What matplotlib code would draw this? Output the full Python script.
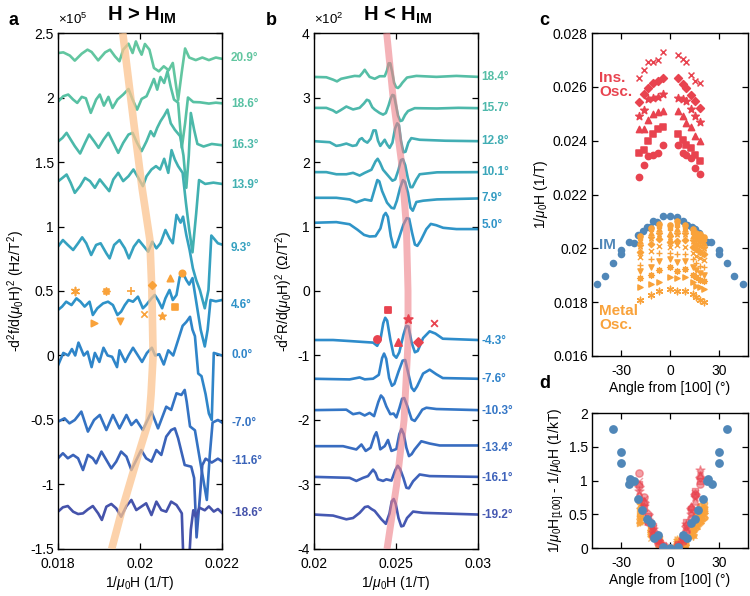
import numpy as np
import matplotlib.pyplot as plt
from matplotlib.ticker import FuncFormatter

plt.rcParams['font.family'] = ['Liberation Sans', 'DejaVu Sans']
plt.rcParams['mathtext.fontset'] = 'custom'
plt.rcParams['mathtext.rm'] = 'Liberation Sans'
plt.rcParams['mathtext.it'] = 'Liberation Sans:italic'
plt.rcParams['mathtext.bf'] = 'Liberation Sans:bold'

# ---------------- panel a : H > H_IM, y in units of 1e5 Hz/T^2 ----------------
a_labels = ['20.9°', '18.6°', '16.3°', '13.9°', '9.3°', '4.6°', '0.0°', '-7.0°', '-11.6°', '-18.6°']
a_label_y = [2.31, 1.95, 1.63, 1.32, 0.83, 0.39, 0.0, -0.52, -0.82, -1.22]

a_209 = [(0.01801, 2.345), (0.01813, 2.35), (0.01829, 2.325), (0.01841, 2.286), (0.01858, 2.34), (0.01872, 2.371),
         (0.01882, 2.353), (0.01898, 2.288), (0.01915, 2.35), (0.01927, 2.371), (0.01939, 2.319), (0.0195, 2.281),
         (0.01959, 2.371), (0.01972, 2.417), (0.01982, 2.345), (0.0199, 2.435), (0.01998, 2.371), (0.02004, 2.332),
         (0.02012, 2.415), (0.02023, 2.371), (0.02034, 2.229), (0.02046, 2.203), (0.02058, 2.242), (0.0207, 2.211),
         (0.0208, 2.268), (0.02093, 1.98), (0.02102, 2.2), (0.0211, 2.38), (0.0212, 2.31), (0.02136, 2.29),
         (0.02152, 2.31), (0.02168, 2.29), (0.02185, 2.31), (0.022, 2.30)]
a_186 = [(0.01801, 1.971), (0.01813, 2.01), (0.01825, 2.023), (0.01837, 1.984), (0.01847, 1.958), (0.01858, 2.005),
         (0.01868, 1.994), (0.0188, 1.881), (0.01893, 1.984), (0.01902, 2.023), (0.01912, 1.937), (0.01923, 2.005),
         (0.01933, 1.919), (0.01945, 1.984), (0.01959, 2.023), (0.01972, 2.066), (0.01982, 1.984), (0.01993, 1.906),
         (0.02004, 1.989), (0.02016, 2.01), (0.02026, 2.082), (0.02034, 2.144), (0.02042, 2.061), (0.0205, 2.159),
         (0.02059, 2.113), (0.02067, 2.203), (0.02075, 2.082), (0.02083, 1.984), (0.02093, 1.96), (0.02102, 1.61),
         (0.0211, 1.80), (0.02117, 2.0), (0.0213, 1.965), (0.02146, 1.963), (0.02168, 1.953), (0.02185, 1.96),
         (0.022, 1.955)]
a_163 = [(0.01801, 1.661), (0.01811, 1.687), (0.01821, 1.726), (0.01831, 1.674), (0.01841, 1.623), (0.01854, 1.566),
         (0.01866, 1.648), (0.01876, 1.713), (0.01888, 1.661), (0.01899, 1.61), (0.01911, 1.674), (0.01923, 1.726),
         (0.01935, 1.648), (0.01947, 1.571), (0.01959, 1.648), (0.01972, 1.713), (0.01982, 1.726), (0.01993, 1.648),
         (0.02004, 1.584), (0.02016, 1.661), (0.02026, 1.739), (0.02034, 1.70), (0.02042, 1.765), (0.0205, 1.816),
         (0.02059, 1.86), (0.02067, 1.906), (0.02075, 1.80), (0.02085, 1.75), (0.02098, 1.70), (0.02106, 1.55),
         (0.02113, 1.30), (0.02119, 1.55), (0.02124, 1.88), (0.02132, 1.75), (0.0214, 1.64), (0.02155, 1.62),
         (0.02175, 1.64), (0.022, 1.63)]
a_139 = [(0.01801, 1.352), (0.01811, 1.377), (0.01821, 1.403), (0.01831, 1.339), (0.01841, 1.261), (0.01854, 1.313),
         (0.01866, 1.377), (0.01878, 1.352), (0.0189, 1.30), (0.01902, 1.365), (0.01915, 1.313), (0.01925, 1.274),
         (0.01935, 1.365), (0.01947, 1.416), (0.01959, 1.352), (0.01972, 1.39), (0.01984, 1.442), (0.01996, 1.377),
         (0.02007, 1.313), (0.02016, 1.39), (0.02028, 1.442), (0.02039, 1.468), (0.02049, 1.442), (0.02059, 1.525),
         (0.02069, 1.416), (0.02077, 1.592), (0.02085, 1.519), (0.02093, 1.468), (0.02104, 1.416), (0.02112, 1.184),
         (0.0212, 0.977), (0.02128, 0.80), (0.02137, 1.10), (0.02144, 1.36), (0.02159, 1.33), (0.02179, 1.34),
         (0.022, 1.33)]
a_93 = [(0.018, 0.844), (0.01812, 0.895), (0.01824, 0.857), (0.01837, 0.818), (0.01849, 0.87), (0.01859, 0.916),
        (0.01869, 0.87), (0.01881, 0.779), (0.01893, 0.857), (0.01904, 0.87), (0.01918, 0.792), (0.01926, 0.753),
        (0.01937, 0.857), (0.0195, 0.895), (0.01963, 0.831), (0.01973, 0.753), (0.01985, 0.844), (0.01997, 0.895),
        (0.0201, 0.844), (0.0202, 0.805), (0.0203, 0.882), (0.0204, 0.831), (0.0205, 0.87), (0.02062, 0.973),
        (0.02072, 0.908), (0.0208, 0.87), (0.02089, 1.09), (0.02099, 1.03), (0.02105, 1.076), (0.02113, 0.934),
        (0.02121, 0.818), (0.02129, 0.676), (0.02137, 0.585), (0.02146, 0.508), (0.02158, 0.366), (0.02167, 0.508),
        (0.02174, 0.93), (0.02182, 0.90), (0.0219, 0.87), (0.022, 0.86)]
a_46 = [(0.018, 0.353), (0.0181, 0.379), (0.0182, 0.417), (0.01833, 0.391), (0.01845, 0.443), (0.01855, 0.417),
        (0.01865, 0.379), (0.01877, 0.417), (0.01885, 0.314), (0.01896, 0.366), (0.0191, 0.404), (0.01922, 0.417),
        (0.01934, 0.391), (0.01945, 0.314), (0.01954, 0.34), (0.01963, 0.391), (0.01972, 0.43), (0.01983, 0.417),
        (0.01995, 0.456), (0.02007, 0.366), (0.02015, 0.391), (0.02028, 0.443), (0.02036, 0.469), (0.02044, 0.43),
        (0.02054, 0.366), (0.02062, 0.443), (0.02072, 0.508), (0.0208, 0.43), (0.02089, 0.469), (0.02097, 0.611),
        (0.02105, 0.637), (0.02113, 0.585), (0.0212, 0.55), (0.02128, 0.60), (0.02138, 0.40), (0.02148, 0.20),
        (0.02158, 0.07), (0.02165, 0.20), (0.02172, 0.43), (0.02185, 0.42), (0.022, 0.43)]
a_00 = [(0.01801, -0.07), (0.01813, 0.02), (0.01825, 0.0), (0.01834, 0.05), (0.01842, 0.0), (0.0185, 0.1),
        (0.01863, 0.0), (0.01872, 0.03), (0.01882, -0.09), (0.0189, 0.02), (0.01901, -0.05), (0.01911, 0.06),
        (0.01921, 0.0), (0.01932, -0.01), (0.01944, -0.09), (0.0195, 0.04), (0.01964, -0.05), (0.01972, 0.0),
        (0.01983, 0.06), (0.01993, 0.01), (0.02005, -0.05), (0.02017, 0.02), (0.02029, 0.06), (0.02037, 0.0),
        (0.02047, 0.01), (0.02058, -0.07), (0.02069, 0.04), (0.02081, 0.0), (0.02093, 0.12), (0.02104, 0.23),
        (0.02113, 0.26), (0.02122, 0.30), (0.02128, 0.20), (0.02134, 0.15), (0.02142, -0.14), (0.0215, -0.16),
        (0.0216, -0.30), (0.02168, -0.45), (0.02175, -0.50), (0.0218, 0.02), (0.0219, 0.01), (0.022, 0.0)]
a_m70 = [(0.018, -0.513), (0.01816, -0.487), (0.01828, -0.526), (0.01841, -0.5), (0.01857, -0.435), (0.01873, -0.59),
         (0.01888, -0.5), (0.01902, -0.461), (0.01918, -0.578), (0.01934, -0.461), (0.0195, -0.565), (0.01967, -0.461),
         (0.01979, -0.539), (0.01991, -0.5), (0.02007, -0.578), (0.02028, -0.435), (0.02044, -0.565), (0.02064, -0.397),
         (0.02076, -0.422), (0.02089, -0.293), (0.02101, -0.306), (0.02109, -0.267), (0.02114, -0.36), (0.02122, -0.55),
         (0.02134, -0.58), (0.02142, -0.73), (0.0215, -0.88), (0.02163, -1.12), (0.0217, -0.78), (0.02177, -0.52),
         (0.0219, -0.5), (0.022, -0.52)]
a_m116 = [(0.018, -0.797), (0.01812, -0.758), (0.01824, -0.797), (0.01837, -0.771), (0.01849, -0.797), (0.01861, -0.888),
          (0.01873, -0.771), (0.01885, -0.797), (0.01893, -0.836), (0.01906, -0.745), (0.01918, -0.81), (0.0193, -0.875),
          (0.01942, -0.823), (0.01954, -0.745), (0.01967, -0.784), (0.01979, -0.888), (0.01991, -0.81), (0.02003, -0.733),
          (0.02015, -0.797), (0.02028, -0.823), (0.0204, -0.733), (0.02052, -0.771), (0.02064, -0.629), (0.02076, -0.578),
          (0.02085, -0.565), (0.02093, -0.642), (0.02109, -0.849), (0.02125, -0.862), (0.02132, -0.95), (0.02138, -1.41),
          (0.02146, -1.10), (0.02152, -0.85), (0.0216, -0.80), (0.02175, -0.83), (0.0219, -0.80), (0.022, -0.82)]
a_m186 = [(0.018, -1.211), (0.01812, -1.177), (0.01824, -1.167), (0.01837, -1.211), (0.01849, -1.229), (0.01861, -1.224),
          (0.01873, -1.193), (0.01885, -1.167), (0.01898, -1.224), (0.01907, -1.275), (0.01918, -1.172), (0.0193, -1.151),
          (0.01942, -1.185), (0.01954, -1.25), (0.01967, -1.167), (0.01979, -1.12), (0.01991, -1.198), (0.02003, -1.172),
          (0.02015, -1.146), (0.02028, -1.237), (0.0204, -1.133), (0.02052, -1.198), (0.02064, -1.211), (0.02076, -1.133),
          (0.02089, -1.159), (0.02097, -1.198), (0.02102, -1.224), (0.02107, -1.7), (0.02118, -1.7), (0.02124, -1.35),
          (0.0213, -1.2), (0.02136, -1.25), (0.02145, -1.18), (0.02158, -1.2), (0.02168, -1.17), (0.0218, -1.21),
          (0.0219, -1.19), (0.022, -1.22)]
a_traces = [a_209, a_186, a_163, a_139, a_93, a_46, a_00, a_m70, a_m116, a_m186]

band_a_x = [0.01958, 0.01985, 0.02005, 0.02024, 0.02029, 0.02032, 0.02027, 0.02022, 0.01993, 0.01956, 0.01931]
band_a_y = [2.5, 1.8, 1.3, 0.9, 0.5, 0.0, -0.3, -0.5, -0.8, -1.2, -1.5]

# heights of the metal-oscillation markers drawn above the 4.6 deg trace
a_mark_y = [0.50, 0.249, 0.50, 0.27, 0.50, 0.319, 0.547, 0.306, 0.603, 0.379, 0.642]

# ---------------- panel b : H < H_IM, y in units of 1e2 Ohm/T^2 ----------------
b_labels = ['18.4°', '15.7°', '12.8°', '10.1°', '7.9°', '5.0°',
            '-4.3°', '-7.6°', '-10.3°', '-13.4°', '-16.1°', '-19.2°']
b_label_y = [3.32, 2.84, 2.32, 1.84, 1.445, 1.03, -0.78, -1.37, -1.86, -2.43, -2.9, -3.48]

b_184 = [(0.02, 3.319), (0.02075, 3.314), (0.02116, 3.277), (0.0214, 3.25), (0.02165, 3.29), (0.02217, 3.319),
         (0.02248, 3.335), (0.02278, 3.33), (0.02295, 3.38), (0.02309, 3.43), (0.02322, 3.38), (0.02339, 3.319),
         (0.0237, 3.29), (0.024, 3.33), (0.02431, 3.33), (0.02445, 3.42), (0.02455, 3.53), (0.02465, 3.53),
         (0.02476, 3.40), (0.02488, 3.23), (0.025, 3.16), (0.02512, 3.148), (0.02525, 3.18), (0.02539, 3.23),
         (0.02567, 3.31), (0.02624, 3.335), (0.02746, 3.32), (0.02868, 3.335), (0.03, 3.32)]
b_157 = [(0.02, 2.839), (0.02075, 2.839), (0.02115, 2.80), (0.02136, 2.765), (0.0216, 2.80), (0.02197, 2.86),
         (0.02238, 2.815), (0.02278, 2.84), (0.02305, 2.91), (0.02322, 2.965), (0.02336, 2.95), (0.02355, 2.85),
         (0.0237, 2.813), (0.024, 2.76), (0.02421, 2.735), (0.02438, 2.76), (0.02455, 2.88), (0.02468, 2.99),
         (0.02478, 3.04), (0.02488, 3.03), (0.02498, 2.9), (0.02512, 2.72), (0.02526, 2.635), (0.02538, 2.645),
         (0.02555, 2.73), (0.02573, 2.79), (0.02614, 2.835), (0.0275, 2.83), (0.0288, 2.84), (0.03, 2.835)]
b_128 = [(0.02, 2.323), (0.02096, 2.307), (0.02136, 2.25), (0.0216, 2.26), (0.02197, 2.286), (0.02235, 2.25),
         (0.02258, 2.26), (0.02278, 2.35), (0.02292, 2.37), (0.02305, 2.33), (0.02325, 2.30), (0.02345, 2.36),
         (0.02362, 2.49), (0.02376, 2.49), (0.0239, 2.33), (0.02404, 2.25), (0.02418, 2.30), (0.02431, 2.345),
         (0.02446, 2.27), (0.02461, 2.22), (0.02478, 2.30), (0.02494, 2.52), (0.02507, 2.60), (0.02518, 2.57),
         (0.0253, 2.33), (0.02545, 2.15), (0.02558, 2.16), (0.02575, 2.30), (0.02593, 2.37), (0.02644, 2.345),
         (0.028, 2.33), (0.03, 2.323)]
b_101 = [(0.02, 1.843), (0.02075, 1.843), (0.02136, 1.81), (0.02197, 1.81), (0.02238, 1.832), (0.02278, 1.79),
         (0.02309, 1.832), (0.0235, 1.88), (0.02375, 2.01), (0.02388, 2.05), (0.02402, 1.99), (0.02421, 1.88),
         (0.02451, 1.79), (0.02478, 1.71), (0.02495, 1.73), (0.02515, 1.88), (0.0253, 2.03), (0.02542, 2.045),
         (0.02556, 1.95), (0.02572, 1.75), (0.02588, 1.61), (0.026, 1.61), (0.02624, 1.73), (0.02644, 1.81),
         (0.0275, 1.84), (0.03, 1.843)]
b_79 = [(0.02, 1.445), (0.02136, 1.445), (0.02217, 1.42), (0.02258, 1.375), (0.02309, 1.42), (0.02349, 1.40),
        (0.02372, 1.60), (0.02386, 1.72), (0.02398, 1.70), (0.02415, 1.55), (0.02445, 1.37), (0.02472, 1.29),
        (0.02488, 1.28), (0.02505, 1.40), (0.02525, 1.60), (0.02542, 1.72), (0.02555, 1.69), (0.02573, 1.52),
        (0.02588, 1.29), (0.02602, 1.245), (0.02624, 1.38), (0.02665, 1.40), (0.0275, 1.42), (0.03, 1.435)]
b_50 = [(0.02, 1.058), (0.02136, 1.068), (0.02217, 1.035), (0.02265, 0.95), (0.02305, 0.87), (0.02339, 0.845),
        (0.02375, 0.85), (0.02405, 0.97), (0.02425, 1.17), (0.02437, 1.21), (0.0245, 1.15), (0.02468, 0.85),
        (0.02485, 0.68), (0.02498, 0.68), (0.02515, 0.80), (0.02545, 1.03), (0.02565, 1.13), (0.0258, 1.12),
        (0.02598, 0.90), (0.02615, 0.72), (0.0263, 0.70), (0.0265, 0.78), (0.02685, 0.96), (0.02712, 1.04),
        (0.02745, 1.02), (0.02787, 0.98), (0.02868, 0.96), (0.03, 0.96)]
b_m43 = [(0.02, -0.76), (0.02116, -0.76), (0.02217, -0.776), (0.02299, -0.79), (0.0236, -0.80), (0.02385, -0.85),
         (0.02405, -0.75), (0.02422, -0.50), (0.02434, -0.415), (0.02446, -0.46), (0.02465, -0.75), (0.02485, -0.99),
         (0.02502, -1.035), (0.0252, -0.95), (0.02545, -0.68), (0.02562, -0.54), (0.02576, -0.55), (0.02595, -0.80),
         (0.02615, -0.95), (0.02632, -0.93), (0.02665, -0.73), (0.02705, -0.625), (0.0274, -0.66), (0.02785, -0.74),
         (0.03, -0.76)]
b_m76 = [(0.02, -1.361), (0.02217, -1.371), (0.02278, -1.34), (0.02309, -1.37), (0.0236, -1.36), (0.02395, -1.30),
         (0.02415, -1.04), (0.02427, -0.97), (0.0244, -1.05), (0.02458, -1.35), (0.02475, -1.47), (0.0249, -1.44),
         (0.02515, -1.25), (0.0254, -1.08), (0.02556, -1.07), (0.02575, -1.28), (0.02595, -1.50), (0.0261, -1.55),
         (0.02628, -1.48), (0.02665, -1.28), (0.02705, -1.22), (0.02745, -1.29), (0.02785, -1.35), (0.03, -1.361)]
b_m103 = [(0.02, -1.847), (0.02197, -1.84), (0.02238, -1.91), (0.02278, -1.89), (0.02309, -1.93), (0.02339, -1.89),
          (0.02366, -1.94), (0.02392, -1.72), (0.02408, -1.62), (0.02422, -1.66), (0.02441, -1.79), (0.02465, -1.91),
          (0.02485, -1.90), (0.02502, -1.96), (0.0252, -1.82), (0.02537, -1.67), (0.0255, -1.66), (0.02568, -1.78),
          (0.02595, -1.99), (0.02614, -2.015), (0.02635, -1.94), (0.0266, -1.84), (0.02685, -1.81), (0.02746, -1.83),
          (0.03, -1.847)]
b_m134 = [(0.02, -2.406), (0.02177, -2.406), (0.02258, -2.457), (0.02289, -2.38), (0.02315, -2.48), (0.02345, -2.43),
          (0.02368, -2.25), (0.0238, -2.19), (0.02392, -2.30), (0.02404, -2.455), (0.02431, -2.405), (0.02451, -2.31),
          (0.02472, -2.48), (0.02502, -2.45), (0.0252, -2.22), (0.02533, -2.14), (0.02547, -2.22), (0.02563, -2.43),
          (0.02579, -2.56), (0.02595, -2.53), (0.02614, -2.455), (0.02654, -2.33), (0.02705, -2.365), (0.02766, -2.395),
          (0.03, -2.395)]
b_m161 = [(0.02, -2.882), (0.02217, -2.897), (0.02258, -2.945), (0.02299, -2.897), (0.02329, -2.87), (0.0236, -2.77),
          (0.02375, -2.82), (0.0239, -2.92), (0.02421, -2.945), (0.02441, -2.92), (0.02472, -2.94), (0.02495, -2.78),
          (0.0251, -2.71), (0.02525, -2.76), (0.02545, -2.90), (0.02563, -3.05), (0.02578, -3.06), (0.02604, -2.95),
          (0.02644, -2.845), (0.02705, -2.87), (0.03, -2.882)]
b_m192 = [(0.02, -3.466), (0.02116, -3.482), (0.02197, -3.54), (0.02238, -3.52), (0.02278, -3.44), (0.0231, -3.35),
          (0.02329, -3.34), (0.0235, -3.38), (0.0237, -3.41), (0.02411, -3.54), (0.02438, -3.61), (0.0246, -3.45),
          (0.02474, -3.26), (0.02486, -3.225), (0.02498, -3.30), (0.02515, -3.52), (0.02532, -3.65), (0.02545, -3.64),
          (0.02567, -3.52), (0.02604, -3.42), (0.02665, -3.44), (0.03, -3.466)]
b_traces = [b_184, b_157, b_128, b_101, b_79, b_50, b_m43, b_m76, b_m103, b_m134, b_m161, b_m192]

band_b_x = [0.02443, 0.02482, 0.02533, 0.02563, 0.02573, 0.02573, 0.02549, 0.02504, 0.02445]
band_b_y = [4.0, 3.0, 2.0, 1.0, 0.0, -0.8, -2.0, -3.0, -4.0]

# heights of the insulating-oscillation markers above the -4.3 deg trace (o, s, ^, *, D, x)
b_mark_y = [-0.75, -0.295, -0.786, -0.44, -0.79, -0.49]

# ---------------- panel c : peak positions vs angle ----------------
im_ang = [-44.9, -40.2, -35.1, -29.9, -29.9, -25.2, -22.3, -19.6, -16.5, -14.4, -12.4, -10.3, -7.8, -4.6, 0.0,
          4.6, 7.8, 10.3, 13.4, 15.5, 17.9, 18.9, 22.7, 25.2, 29.9, 29.9, 35.1, 39.6, 44.9]
im_val = [0.01868, 0.01898, 0.01944, 0.0198, 0.01994, 0.02023, 0.02021, 0.02048, 0.02064, 0.02079, 0.02079, 0.02103,
          0.02097, 0.02119, 0.02119, 0.02117, 0.02103, 0.02086, 0.02079, 0.0207, 0.02058, 0.02042, 0.02024, 0.02023,
          0.01994, 0.0198, 0.01944, 0.01898, 0.01868]

ins_ang = [-19.2, -16.1, -13.4, -10.3, -7.6, -4.3, 5.0, 7.9, 10.1, 12.8, 15.7, 18.4]
ins_circ = [0.02266, 0.02309, 0.02344, 0.02346, 0.02356, 0.02383, 0.02383, 0.02356, 0.02348, 0.02334, 0.02297, 0.02276]
ins_sq = [0.02356, 0.02364, 0.02399, 0.02426, 0.02444, 0.0245, 0.02426, 0.02401, 0.02383, 0.02371, 0.02348, 0.02324]
ins_tri = [0.02444, 0.02444, 0.02475, 0.02499, 0.02506, 0.02512, 0.02512, 0.02491, 0.02466, 0.0245, 0.02417, 0.02398]
ins_star = [0.02491, 0.02515, 0.02555, 0.0256, 0.02564, 0.02575, 0.0256, 0.02555, 0.02548, 0.02518, 0.02493, 0.02471]
ins_dia = [0.02545, 0.02573, 0.02594, 0.02616, 0.02622, 0.02632, 0.02632, 0.0261, 0.02594, 0.02569, 0.02548, 0.0252]
ins_x = [0.02632, 0.02663, 0.02693, 0.02693, 0.02699, 0.0273, 0.0272, 0.02704, 0.02692, 0.02643, 0.02622, 0.02613]

met_ang = [-18.6, -11.6, -7.0, 0.0, 4.6, 9.3, 13.9, 16.3, 18.6, 20.9]
met_ast = [0.01809, 0.01825, 0.01843, 0.01849, 0.01842, 0.01841, 0.01831, 0.01818, 0.01809, 0.018]
met_trir = [0.01855, 0.01868, 0.01874, 0.01892, 0.01889, 0.01892, 0.01874, 0.01861, 0.01855, 0.01849]
met_oct = [0.0189, 0.01902, 0.01919, 0.01929, 0.01916, 0.01923, 0.01902, 0.01892, 0.01882, 0.01877]
met_trid = [0.01917, 0.01929, 0.01953, 0.0196, 0.01951, 0.01953, 0.01929, 0.01919, 0.0191, 0.01902]
met_plus = [0.01939, 0.0196, 0.01984, 0.01984, 0.01979, 0.0198, 0.0196, 0.01944, 0.01935, 0.01929]
met_x = [0.01966, 0.0199, 0.02009, 0.02005, 0.02011, 0.02005, 0.01984, 0.01972, 0.01963, 0.01956]
met_dia = [0.01988, 0.02017, 0.02033, 0.02025, 0.02029, 0.0203, 0.02005, 0.01996, 0.01988, 0.0198]
met_star = [0.02009, 0.02039, 0.02052, 0.02042, 0.02054, 0.02052, 0.02027, 0.02017, 0.02009, 0.02]
met_triu = [0.02027, 0.02058, 0.0207, 0.02058, 0.02072, 0.0207, 0.02045, 0.02033, 0.02027, 0.02021]
met_sq = [0.02039, 0.0207, 0.02082, 0.02074, 0.02085, 0.02079, 0.02061, 0.02045, 0.02039, 0.02033]
met_circ = [0.02045, 0.02076, 0.02091, 0.02088, 0.02103, 0.02085, 0.0207, 0.02058, 0.02052, 0.02042]

# ---------------- panel d : shift from [100] (1/kT) ----------------
d_im_ang = [-35.1, -29.9, -29.9, -24.7, -25.2, -22.3, -19.6, -17.1, -14.4, -11.9, -9.9, -7.2, -4.6, 0.1,
            5.2, 7.8, 10.3, 13.0, 15.5, 17.5, 20.2, 22.7, 23.7, 25.8, 29.9, 29.9, 35.1]
d_im_val = [1.77, 1.43, 1.26, 1.03, 0.95, 0.99, 0.72, 0.57, 0.43, 0.375, 0.15, 0.19, 0.015, 0.005,
            0.015, 0.19, 0.15, 0.37, 0.43, 0.56, 0.72, 0.99, 1.03, 0.95, 1.26, 1.43, 1.77]

d_ins_circ = [1.11, 0.75, 0.38, 0.20, 0.08, 0.01, 0.01, 0.10, 0.25, 0.45, 0.78, 0.95]
d_ins_sq = [0.95, 0.60, 0.48, 0.32, 0.18, 0.04, 0.06, 0.16, 0.38, 0.58, 0.85, 1.00]
d_ins_tri = [0.80, 0.70, 0.40, 0.22, 0.14, 0.02, 0.02, 0.20, 0.28, 0.62, 0.70, 1.08]
d_ins_star = [0.85, 0.62, 0.42, 0.28, 0.10, 0.05, 0.04, 0.12, 0.35, 0.50, 0.75, 1.15]
d_ins_dia = [0.92, 0.68, 0.50, 0.25, 0.12, 0.02, 0.03, 0.15, 0.32, 0.60, 0.80, 1.05]
d_ins_x = [1.00, 0.72, 0.45, 0.30, 0.15, 0.03, 0.05, 0.18, 0.30, 0.55, 0.82, 1.10]

d_met_ast = [0.40, 0.24, 0.06, 0.0, 0.07, 0.08, 0.18, 0.31, 0.40, 0.49]
d_met_trir = [0.37, 0.24, 0.18, 0.0, 0.03, 0.02, 0.18, 0.31, 0.37, 0.43]
d_met_oct = [0.39, 0.27, 0.10, 0.0, 0.13, 0.06, 0.27, 0.37, 0.47, 0.52]
d_met_trid = [0.43, 0.31, 0.07, 0.0, 0.09, 0.07, 0.31, 0.41, 0.50, 0.58]
d_met_plus = [0.45, 0.24, 0.02, 0.0, 0.05, 0.04, 0.24, 0.40, 0.49, 0.55]
d_met_x = [0.55, 0.15, 0.04, 0.0, 0.03, 0.05, 0.21, 0.33, 0.42, 0.49]
d_met_dia = [0.60, 0.18, 0.08, 0.0, 0.04, 0.05, 0.20, 0.29, 0.37, 0.45]
d_met_star = [0.65, 0.22, 0.10, 0.0, 0.02, 0.06, 0.26, 0.38, 0.52, 0.60]
d_met_triu = [0.70, 0.28, 0.12, 0.0, 0.03, 0.09, 0.30, 0.42, 0.55, 0.62]
d_met_sq = [0.52, 0.30, 0.14, 0.0, 0.05, 0.11, 0.34, 0.46, 0.58, 0.56]
d_met_circ = [0.48, 0.33, 0.09, 0.0, 0.02, 0.13, 0.36, 0.50, 0.62, 0.66]

# ---------------- styling ----------------
a_colors = ['#62c6a0', '#58c1a3', '#4cb9a9', '#41b0b1', '#35a1c0', '#2e92c8', '#2f85c9',
            '#3473c3', '#3a63b9', '#4553ab']
b_colors = ['#56bea6', '#4db8ab', '#42aeb4', '#3aa6ba', '#339cc2', '#2f94c8', '#2e8ccb', '#2f82ca',
            '#3476c6', '#386cc0', '#3e62ba', '#4558b2']
RED = '#e8434f'
ORANGE = '#f9a23a'
BLUE = '#5087b8'

met_markers = [(6, 2, 0), '>', (8, 1, 0), 'v', '+', 'x', 'D', '*', '^', 's', 'o']
met_sizes = [22, 14, 18, 14, 22, 14, 10, 20, 14, 10, 14]
ins_markers = ['o', 's', '^', '*', 'D', 'x']
ins_sizes = [20, 16, 20, 32, 16, 18]

fmt = FuncFormatter(lambda v, p: f'{v:g}')


def style(ax):
    ax.tick_params(direction='in', top=True, right=True, length=4, width=0.9, labelsize=10)
    ax.tick_params(axis='x', pad=6)
    ax.tick_params(axis='y', pad=3)
    for s in ax.spines.values():
        s.set_linewidth(1.0)
    ax.xaxis.set_major_formatter(fmt)
    ax.yaxis.set_major_formatter(fmt)


fig = plt.figure(figsize=(7.5, 5.96), dpi=100)
ax_a = fig.add_axes([0.0773, 0.0789, 0.2187, 0.8657])
ax_b = fig.add_axes([0.4187, 0.0789, 0.2187, 0.8657])
ax_c = fig.add_axes([0.7893, 0.4027, 0.208, 0.5419])
ax_d = fig.add_axes([0.7893, 0.0805, 0.208, 0.2265])

# panel a
for pts, col in zip(a_traces, a_colors):
    xs, ys = zip(*pts)
    ax_a.plot(xs, ys, color=col, lw=1.9, solid_joinstyle='round', zorder=2)
ax_a.plot(band_a_x, band_a_y, color='#fbc48f', lw=5.5, alpha=0.75, solid_capstyle='butt', zorder=3)
a_mark_x = [met_ast[4], met_trir[4], met_oct[4], met_trid[4], met_plus[4], met_x[4],
            met_dia[4], met_star[4], met_triu[4], met_sq[4], met_circ[4]]
for mx, my, mk, ms in zip(a_mark_x, a_mark_y, met_markers, met_sizes):
    ax_a.scatter(mx, my, marker=mk, s=ms * 1.5, color=ORANGE, linewidths=1.2, zorder=4)
for lab, yv, col in zip(a_labels, a_label_y, a_colors):
    ax_a.text(1.055, yv, lab, transform=ax_a.get_yaxis_transform(), color=col,
              fontsize=8.5, fontweight='bold', va='center', ha='left', clip_on=False)
ax_a.set_xlim(0.018, 0.022)
ax_a.set_ylim(-1.5, 2.5)
ax_a.set_xticks([0.018, 0.02, 0.022])
ax_a.set_yticks(np.arange(-1.5, 2.51, 0.5))
style(ax_a)
ax_a.set_xlabel(r'1/$\mu_0$H (1/T)', fontsize=10, labelpad=2)
ax_a.set_ylabel(r'-d$^2$f/d($\mu_0$H)$^2$ (Hz/T$^2$)', fontsize=10, labelpad=2)
ax_a.text(0.0, 1.012, r'$\times$10$^5$', transform=ax_a.transAxes, fontsize=9.5, va='bottom', ha='left')

# panel b
for pts, col in zip(b_traces, b_colors):
    xs, ys = zip(*pts)
    ax_b.plot(xs, ys, color=col, lw=1.9, solid_joinstyle='round', zorder=2)
ax_b.plot(band_b_x, band_b_y, color='#ee7f88', lw=5, alpha=0.6, solid_capstyle='butt', zorder=3)
b_mark_x = [ins_circ[5], ins_sq[5], ins_tri[5], ins_star[5], ins_dia[5], ins_x[5]]
for mx, my, mk, ms in zip(b_mark_x, b_mark_y, ins_markers, ins_sizes):
    ax_b.scatter(mx, my, marker=mk, s=ms * 1.3, color=RED, linewidths=1.3, zorder=4)
for lab, yv, col in zip(b_labels, b_label_y, b_colors):
    ax_b.text(1.02, yv, lab, transform=ax_b.get_yaxis_transform(), color=col,
              fontsize=8.5, fontweight='bold', va='center', ha='left', clip_on=False)
ax_b.set_xlim(0.02, 0.03)
ax_b.set_ylim(-4, 4)
ax_b.set_xticks([0.02, 0.025, 0.03])
ax_b.set_yticks(np.arange(-4, 4.1, 1))
style(ax_b)
ax_b.set_xlabel(r'1/$\mu_0$H (1/T)', fontsize=10, labelpad=2)
ax_b.set_ylabel(r'-d$^2$R/d($\mu_0$H)$^2$ ($\Omega$/T$^2$)', fontsize=10, labelpad=2)
ax_b.text(0.0, 1.012, r'$\times$10$^2$', transform=ax_b.transAxes, fontsize=9.5, va='bottom', ha='left')

# panel c
ins_sets = [ins_circ, ins_sq, ins_tri, ins_star, ins_dia, ins_x]
met_sets = [met_ast, met_trir, met_oct, met_trid, met_plus, met_x, met_dia, met_star, met_triu, met_sq, met_circ]
for vals, mk, ms in zip(ins_sets, ins_markers, ins_sizes):
    ax_c.scatter(ins_ang, vals, marker=mk, s=ms, color=RED, linewidths=1.1, zorder=3)
ax_c.scatter(im_ang, im_val, marker='o', s=30, color=BLUE, linewidths=0, zorder=2)
for vals, mk, ms in zip(met_sets, met_markers, met_sizes):
    ax_c.scatter(met_ang, vals, marker=mk, s=ms, color=ORANGE, linewidths=1.0, zorder=3)
ax_c.text(-43.5, 0.0266, 'Ins.\nOsc.', color=RED, fontsize=11, fontweight='bold', va='top', ha='left',
          linespacing=1.05)
ax_c.text(-43.5, 0.01996, 'IM', color=BLUE, fontsize=11, fontweight='bold', va='baseline', ha='left')
ax_c.text(-43.5, 0.01795, 'Metal\nOsc.', color=ORANGE, fontsize=11, fontweight='bold', va='top', ha='left',
          linespacing=1.05)
ax_c.set_xlim(-48, 48)
ax_c.set_ylim(0.016, 0.028)
ax_c.set_xticks([-30, 0, 30])
ax_c.set_yticks(np.arange(0.016, 0.0281, 0.002))
style(ax_c)
ax_c.set_xlabel('Angle from [100] (°)', fontsize=10, labelpad=2)
ax_c.set_ylabel(r'1/$\mu_0$H (1/T)', fontsize=10, labelpad=2)

# panel d
d_ins_sets = [d_ins_circ, d_ins_sq, d_ins_tri, d_ins_star, d_ins_dia, d_ins_x]
d_met_sets = [d_met_ast, d_met_trir, d_met_oct, d_met_trid, d_met_plus, d_met_x, d_met_dia, d_met_star,
              d_met_triu, d_met_sq, d_met_circ]
for vals, mk, ms in zip(d_met_sets, met_markers, met_sizes):
    ax_d.scatter(met_ang, vals, marker=mk, s=ms * 1.4, color=ORANGE, alpha=0.7, linewidths=1.0, zorder=2)
for vals, mk, ms in zip(d_ins_sets, ins_markers, ins_sizes):
    ax_d.scatter(ins_ang, vals, marker=mk, s=ms * 1.4, color=RED, alpha=0.5, linewidths=1.0, zorder=3)
ax_d.scatter(d_im_ang, d_im_val, marker='o', s=40, color=BLUE, linewidths=0, zorder=4)
ax_d.set_xlim(-48, 48)
ax_d.set_ylim(0, 2)
ax_d.set_xticks([-30, 0, 30])
ax_d.set_yticks([0, 0.5, 1, 1.5, 2])
style(ax_d)
ax_d.set_xlabel('Angle from [100] (°)', fontsize=10, labelpad=2)
ax_d.set_ylabel(r'1/$\mu_0$H$_{[100]}$ - 1/$\mu_0$H (1/kT)', fontsize=10, labelpad=2)

# titles and panel letters
fig.text(0.188, 0.966, r'H > H$_{\mathbf{IM}}$', fontsize=14.5, fontweight='bold', ha='center', va='baseline')
fig.text(0.53, 0.966, r'H < H$_{\mathbf{IM}}$', fontsize=14.5, fontweight='bold', ha='center', va='baseline')
fig.text(0.011, 0.958, 'a', fontsize=13, fontweight='bold')
fig.text(0.354, 0.958, 'b', fontsize=13, fontweight='bold')
fig.text(0.719, 0.958, 'c', fontsize=13, fontweight='bold')
fig.text(0.719, 0.349, 'd', fontsize=13, fontweight='bold')

fig.savefig('out.png', dpi=100)
